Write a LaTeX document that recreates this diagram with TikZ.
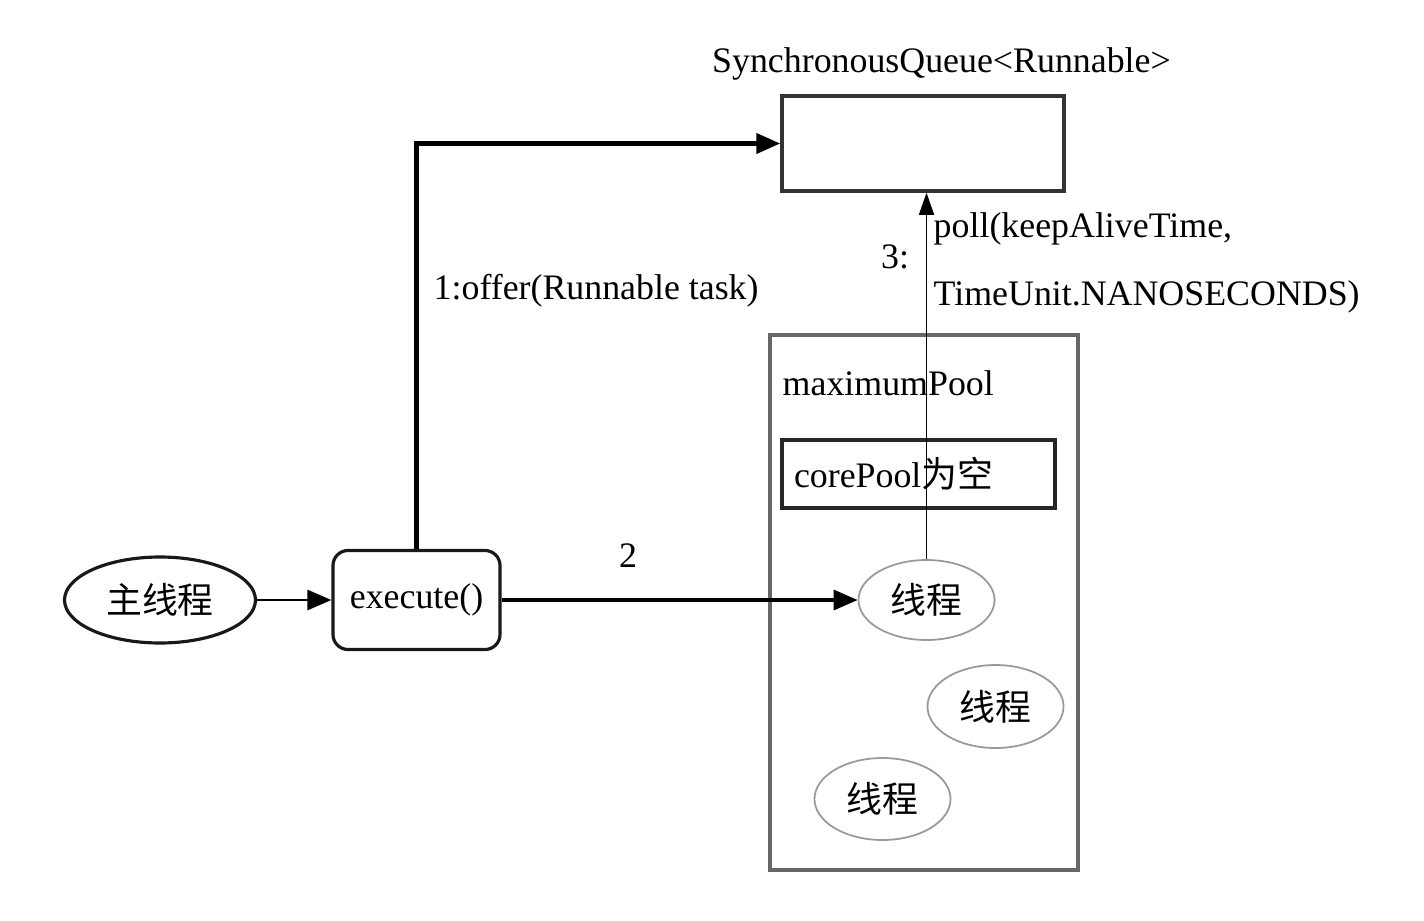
\documentclass[tikz,border=0pt]{standalone}
\usepackage{fontspec}
\setmainfont{Liberation Serif}
\newfontfamily\cjk{Noto Sans CJK SC}
\usepackage{tikz}
\usetikzlibrary{arrows.meta, shapes.geometric, positioning}

\tikzset{
    txt/.style={font=\fontsize{10.2pt}{12pt}\selectfont, inner sep=0pt},
    thread/.style={ellipse, draw=black!40, line width=0.5pt, txt, minimum width=1.36cm, minimum height=0.8cm},
}

\begin{document}
\begin{tikzpicture}[>={Triangle[length=2.4mm, width=2mm]}]
        \useasboundingbox (0,0) rectangle (14.24,9.2);

        % Luồng chính và execute()
        \node[ellipse, draw=black!90, line width=0.9pt, txt, minimum width=1.91cm, minimum height=0.86cm] (main) at (1.60,3.20) {\cjk 主线程};
        \node[draw=black!90, line width=0.9pt, rounded corners=0.15cm, txt, minimum width=1.67cm, minimum height=0.99cm] (exec) at (4.165,3.20) {execute()};
        \draw[line width=0.8pt, ->] (main) -- (exec);

        % Hàng đợi
        \node[draw=black!80, line width=1pt, minimum width=2.82cm, minimum height=0.95cm] (queue) at (9.23,7.765) {};
        \node[txt] (qname) at (9.415,8.56) {SynchronousQueue<Runnable>};
        \draw[line width=1.2pt, ->] (exec.north) |- (queue.west);
        \node[txt, anchor=west] (offer) at (4.33,6.29) {1:offer(Runnable task)};

        % maximumPool
        \node[draw=black!60, line width=1pt, minimum width=3.08cm, minimum height=5.35cm] (maxpool) at (9.24,3.175) {};
        \node[txt, anchor=west] (maxname) at (7.82,5.37) {maximumPool};
        \node[draw=black!85, line width=1.3pt, txt, minimum width=2.73cm, minimum height=0.68cm, text width=2.49cm, inner xsep=0.12cm, align=left] (core) at (9.185,4.46) {corePool{\cjk 为空}};

        % Các luồng
        \node[thread] (t1) at (9.265,3.20) {\cjk 线程};
        \node[thread, minimum height=0.83cm] (t2) at (9.955,2.135) {\cjk 线程};
        \node[thread, minimum height=0.82cm] (t3) at (8.825,1.21) {\cjk 线程};

        \draw[line width=0.9pt, ->] (exec.east) -- (t1.west);
        \node[txt] (two) at (6.28,3.64) {2};

        \draw[line width=0.4pt, -{Triangle[length=2.2mm, width=1.5mm]}] (t1.north) -- (t1.north |- queue.south);
        \node[txt] (three) at (8.95,6.63) {3:};
        \node[txt, anchor=west] (poll) at (9.33,6.91) {poll(keepAliveTime,};
        \node[txt, anchor=west] (unit) at (9.33,6.23) {TimeUnit.NANOSECONDS)};
\end{tikzpicture}
\end{document}
